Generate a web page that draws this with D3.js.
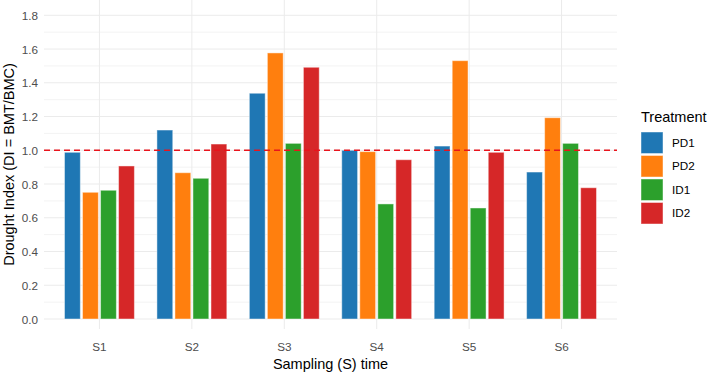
<!DOCTYPE html>
<html><head><meta charset="utf-8">
<script src="https://cdn.jsdelivr.net/npm/d3@7"></script>
<style>body{margin:0;background:#fff}svg{display:block;font-family:"Liberation Sans",Arial,sans-serif}</style>
</head><body><svg id="c" width="711" height="374"></svg>
<script>
const categories = ["S1","S2","S3","S4","S5","S6"];
const treatments = ["PD1","PD2","ID1","ID2"];
const colors = ["#1f77b4","#ff7f0e","#2ca02c","#d62728"];
const PD1 = [0.988,1.120,1.338,1.000,1.025,0.871];
const PD2 = [0.751,0.867,1.577,0.992,1.531,1.193];
const ID1 = [0.763,0.834,1.041,0.682,0.658,1.041];
const ID2 = [0.907,1.037,1.492,0.944,0.988,0.778];
const seriesValues = [PD1,PD2,ID1,ID2];
const yTicks = [0,0.2,0.4,0.6,0.8,1.0,1.2,1.4,1.6,1.8];
const yMinor = [0.1,0.3,0.5,0.7,0.9,1.1,1.3,1.5,1.7];
const refValue = 1.0;

const svg = d3.select("#c");
const L = 44, R = 617, T = 0, B = 329;
const x = d3.scaleBand().domain(categories).range([L,R]).paddingOuter(0.1).paddingInner(0);
// adjust so that band centers follow ggplot discrete expansion (0.6 units)
const step = (R-L)/6.2;
const cx = c => L + (0.6 + categories.indexOf(c))*step;
const y = d3.scaleLinear().domain([0,1.8]).range([319,15.3]);

const g = svg.append("g");
// grid
g.selectAll(".minor").data(yMinor).join("line")
  .attr("x1",L).attr("x2",R).attr("y1",d=>y(d)).attr("y2",d=>y(d))
  .attr("stroke","#f3f3f3").attr("stroke-width",1);
g.selectAll(".major").data(yTicks).join("line")
  .attr("x1",L).attr("x2",R).attr("y1",d=>y(d)).attr("y2",d=>y(d))
  .attr("stroke","#ebebeb").attr("stroke-width",1);
g.selectAll(".vmaj").data(categories).join("line")
  .attr("x1",d=>cx(d)).attr("x2",d=>cx(d)).attr("y1",T).attr("y2",B)
  .attr("stroke","#ebebeb").attr("stroke-width",1);

// bars
const groupW = 0.78*step;
const slot = groupW/4;
const barW = slot - 2.2;
treatments.forEach((t,i)=>{
  g.append("g").selectAll("rect").data(categories).join("rect")
    .attr("x",d=>cx(d)-groupW/2 + i*slot + (slot-barW)/2)
    .attr("width",barW)
    .attr("y",(d,j)=>y(seriesValues[i][j]))
    .attr("height",(d,j)=>y(0)-y(seriesValues[i][j]))
    .attr("fill",colors[i])
    .attr("stroke","#ffffff").attr("stroke-opacity",0.45).attr("stroke-width",1);
});

// reference line
g.append("line").attr("x1",L).attr("x2",R).attr("y1",y(refValue)).attr("y2",y(refValue))
  .attr("stroke","#e8141c").attr("stroke-width",1.6).attr("stroke-dasharray","6,4");

// y axis labels
const yAxis = d3.axisLeft(y).tickValues(yTicks).tickFormat(d3.format(".1f")).tickSize(0).tickPadding(0);
const ya = svg.append("g").attr("transform","translate(38,0)").call(yAxis);
ya.select(".domain").remove();
ya.selectAll("text").attr("fill","#4d4d4d").style("font-size","11.7px").style("font-family","'Liberation Sans',Arial,sans-serif").attr("dy","0.35em");

// x axis labels
svg.append("g").selectAll("text").data(categories).join("text")
  .attr("x",d=>cx(d)).attr("y",351).attr("text-anchor","middle")
  .attr("fill","#4d4d4d").style("font-size","11.7px").text(d=>d);

// titles
svg.append("text").attr("x",(L+R)/2).attr("y",369).attr("text-anchor","middle")
  .attr("fill","#000").style("font-size","14.5px").text("Sampling (S) time");
svg.append("text").attr("transform",`translate(14,${(T+B)/2}) rotate(-90)`).attr("text-anchor","middle")
  .attr("fill","#000").style("font-size","14.5px").text("Drought Index (DI = BMT/BMC)");

// legend
const lg = svg.append("g");
lg.append("text").attr("x",641).attr("y",122).style("font-size","14.5px").attr("fill","#000").text("Treatment");
treatments.forEach((t,i)=>{
  const y0 = 132 + i*23.5;
  lg.append("rect").attr("x",641).attr("y",y0).attr("width",22).attr("height",21.5)
    .attr("fill",colors[i]).attr("stroke","#ffffff").attr("stroke-opacity",0.45);
  lg.append("text").attr("x",672).attr("y",y0+10.75).attr("dy","0.35em")
    .style("font-size","11.7px").attr("fill","#000").text(t);
});
</script></body></html>
